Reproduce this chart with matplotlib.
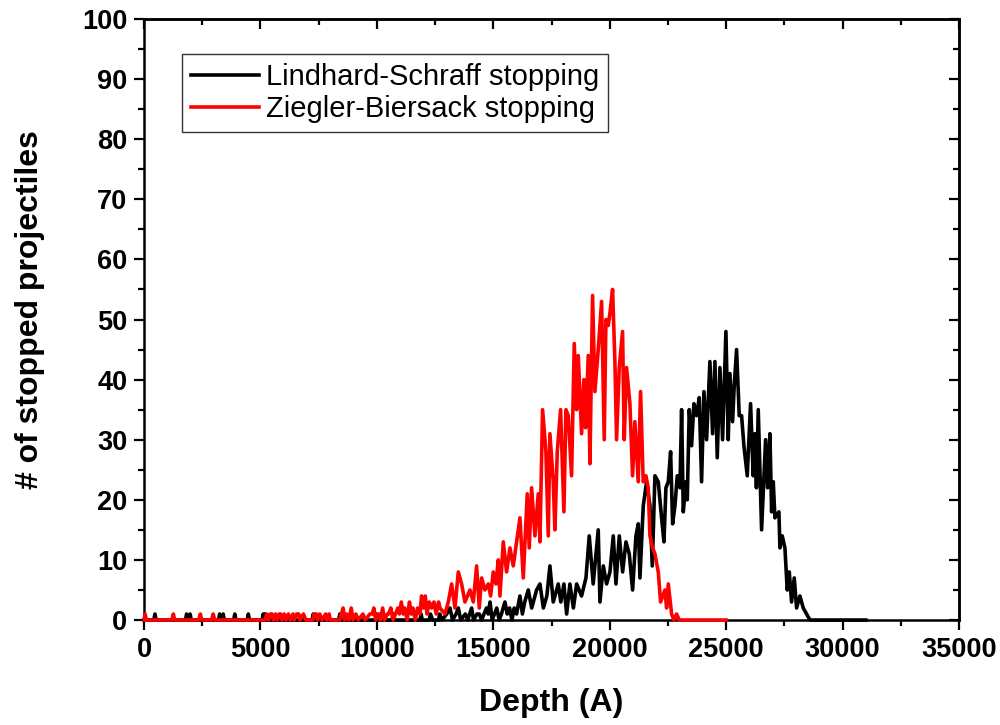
import matplotlib
matplotlib.use('Agg')
import matplotlib.pyplot as plt
from matplotlib.ticker import MultipleLocator

plt.rcParams['font.family'] = ['Liberation Sans', 'DejaVu Sans']

# ---------------- data ----------------
# Ziegler-Biersack: sparse shallow tail
red_tail_depth = [0, 50, 100, 1200, 1260, 1320, 2350, 2420, 2480, 2900, 2970, 3040,
                  5200, 5270, 5350, 5420, 5500, 5560, 5650, 5720, 5800, 5870, 5930,
                  6020, 6100, 6200, 6280, 6400, 6450, 6560, 6650, 6700, 6850, 6950,
                  7250, 7300, 7400, 7450, 7550, 7650, 7800, 7850, 7950, 8000,
                  8400, 8480, 8550, 8620, 8700, 8800, 8900, 8980, 9100, 9200,
                  9400, 9500, 9700, 9800, 9870, 9950, 10000, 10100, 10150, 10250,
                  10330, 10450, 10500, 10600, 10700,
                  10800, 10900, 10970, 11050, 11130, 11200, 11300, 11400, 11480, 11550,
                  11650, 11750, 11850, 11920, 12000, 12080, 12150, 12250, 12350, 12450,
                  12550, 12650]
red_tail_count = [0, 1, 0, 0, 1, 0, 0, 1, 0, 0, 1, 0,
                  0, 1, 0, 1, 1, 0, 1, 0, 1, 1, 0,
                  1, 0, 1, 0, 1, 0, 1, 1, 0, 1, 0,
                  0, 1, 1, 0, 1, 0, 1, 0, 1, 0,
                  0, 1, 2, 0, 1, 0, 2, 0, 1, 0,
                  1, 0, 1, 1, 2, 0, 1, 1, 0, 2,
                  0, 1, 1, 2, 0,
                  1, 2, 1, 3, 1, 2, 0, 3, 1, 2,
                  0, 2, 1, 4, 2, 4, 1, 3, 2, 3,
                  1, 3]
# Ziegler-Biersack: main peak
red_peak_depth = [12710, 12925, 13068, 13211, 13354, 13497, 13640, 13783, 13998, 14141,
                  14284, 14398, 14499, 14641, 14785, 14885, 14999, 15114, 15214, 15286,
                  15429, 15572, 15715, 15858, 16001, 16144, 16288, 16459, 16545, 16645,
                  16788, 16931, 17003, 17117, 17261, 17361, 17432, 17575, 17647, 17747,
                  17890, 18033, 18119, 18219, 18362, 18477, 18577, 18649, 18792, 18892,
                  18963, 19078, 19150, 19264, 19364, 19507, 19651, 19765, 19837, 19937,
                  20008, 20123, 20223, 20294, 20409, 20552, 20623, 20724, 20867, 20981,
                  21081, 21224, 21325, 21439, 21554, 21654, 21728, 21842, 21942, 22085,
                  22185, 22371, 22443, 22515, 22658, 22758, 22872, 22987, 25000]
red_peak_count = [2, 1, 3, 6, 2, 8, 6, 3, 5, 3,
                  9, 2, 7, 5, 6, 4, 8, 6, 10, 4,
                  13, 8, 12, 9, 13, 17, 7, 21, 12, 22,
                  14, 21, 13, 35, 28, 14, 31, 23, 15, 28,
                  35, 18, 35, 34, 24, 46, 35, 44, 31, 40,
                  32, 44, 26, 54, 38, 45, 53, 30, 50, 49,
                  51, 55, 43, 30, 42, 48, 30, 42, 36, 24,
                  33, 23, 38, 23, 24, 22, 14, 12, 11, 8,
                  3, 5, 2, 6, 1, 0, 1, 0, 0]

# Lindhard-Schraff: sparse shallow tail
black_tail_depth = [0, 420, 470, 520, 1780, 1830, 1880, 1930, 1980, 2030,
                    3200, 3250, 3300, 3350, 3400, 3450, 3850, 3900, 3950,
                    4430, 4480, 4530, 5070, 5120, 5160, 5200, 5250,
                    7220, 7270, 7320, 8360, 8410, 8460, 10220, 10270, 10320,
                    10650, 10700, 10750, 11850, 11900, 11950]
black_tail_count = [0, 0, 1, 0, 0, 1, 0, 0, 1, 0,
                    0, 1, 0, 0, 1, 0, 0, 1, 0,
                    0, 1, 0, 0, 1, 0, 1, 0,
                    0, 1, 0, 0, 1, 0, 0, 1, 0,
                    0, 1, 0, 0, 1, 0]
# Lindhard-Schraff: rising flank
black_rise_depth = [12250, 12300, 12400, 12650, 12700, 12800, 13000, 13140, 13250, 13400,
                    13500, 13600, 13800, 13900, 14070, 14150, 14300, 14400, 14500, 14600,
                    14710, 14780, 14860, 14950, 15050, 15150, 15250, 15350, 15500, 15600,
                    15700, 15800, 15900, 16000, 16144, 16250, 16350, 16502, 16650, 16860,
                    17003, 17150, 17300, 17432, 17575, 17790, 17900, 18033, 18150, 18290,
                    18440, 18580, 18790, 18980, 19121, 19290, 19507]
black_rise_count = [0, 1, 0, 0, 1, 0, 1, 2, 0, 1,
                    2, 0, 1, 0, 2, 0, 1, 1, 0, 1,
                    2, 1, 3, 0, 1, 2, 0, 1, 3, 1,
                    2, 0, 2, 1, 4, 1, 3, 5, 2, 5,
                    6, 2, 4, 9, 3, 6, 3, 6, 1, 6,
                    2, 6, 4, 7, 14, 6, 15]
# Lindhard-Schraff: main peak
black_peak_depth = [19581, 19724, 19867, 20010, 20153, 20268, 20411, 20554, 20697, 20840,
                    20983, 21126, 21227, 21298, 21441, 21584, 21728, 21828, 21942, 22085,
                    22228, 22329, 22414, 22515, 22615, 22701, 22801, 22901, 23016, 23087,
                    23159, 23273, 23330, 23416, 23516, 23616, 23731, 23845, 23945, 24046,
                    24160, 24303, 24418, 24518, 24618, 24733, 24847, 24990, 25090, 25162,
                    25276, 25348, 25448, 25562, 25663, 25763, 25906, 26049, 26163, 26236,
                    26300, 26379, 26522, 26694, 26780, 26880, 26952, 27023, 27095, 27266,
                    27309, 27409, 27524, 27624, 27710, 27810, 27925, 28025, 28168, 28311,
                    28454, 28597, 31000]
black_peak_count = [3, 9, 6, 8, 14, 6, 14, 8, 13, 11,
                    5, 14, 16, 7, 19, 23, 19, 9, 24, 23,
                    17, 13, 22, 23, 28, 16, 19, 24, 22, 35,
                    18, 23, 20, 35, 29, 36, 34, 37, 23, 38,
                    30, 43, 31, 43, 27, 42, 30, 48, 30, 41,
                    33, 39, 45, 34, 34, 29, 24, 36, 24, 31,
                    22, 35, 15, 30, 22, 31, 18, 23, 17, 18,
                    12, 14, 12, 5, 8, 3, 7, 2, 4, 2,
                    1, 0, 0]

series_labels = ['Lindhard-Schraff stopping', 'Ziegler-Biersack stopping']
x_ticks = [0, 5000, 10000, 15000, 20000, 25000, 30000, 35000]
x_tick_labels = ['0', '5000', '10000', '15000', '20000', '25000', '30000', '35000']
y_ticks = [0, 10, 20, 30, 40, 50, 60, 70, 80, 90, 100]
y_tick_labels = [str(v) for v in y_ticks]
x_label = 'Depth (A)'
y_label = '# of stopped projectiles'

# ---------------- figure ----------------
black_depth = black_tail_depth + black_rise_depth + black_peak_depth
black_count = black_tail_count + black_rise_count + black_peak_count
red_depth = red_tail_depth + red_peak_depth
red_count = red_tail_count + red_peak_count
assert len(black_depth) == len(black_count)
assert len(red_depth) == len(red_count)

fig = plt.figure(figsize=(10, 7.25), dpi=100)
ax = fig.add_axes([0.144, 0.1448, 0.815, 0.829])

ax.plot(black_depth, black_count, color='black', lw=2.6, label=series_labels[0],
        zorder=3, clip_on=False)
ax.plot(red_depth, red_count, color='#ff0000', lw=2.6, label=series_labels[1],
        zorder=4, clip_on=False)

ax.set_xlim(0, 35000)
ax.set_ylim(0, 100)
ax.set_xticks(x_ticks)
ax.set_xticklabels(x_tick_labels, fontsize=19.5, fontweight='bold')
ax.set_yticks(y_ticks)
ax.set_yticklabels(y_tick_labels, fontsize=19.5, fontweight='bold')
ax.xaxis.set_minor_locator(MultipleLocator(2500))
ax.yaxis.set_minor_locator(MultipleLocator(5))
ax.tick_params(which='major', direction='out', length=7, width=1.6, pad=5)
ax.tick_params(which='minor', direction='out', length=4, width=1.6)
for sp in ax.spines.values():
    sp.set_linewidth(1.8)

sx = ax.secondary_xaxis('top')
sx.set_xticks(x_ticks)
sx.xaxis.set_minor_locator(MultipleLocator(2500))
sx.tick_params(which='major', direction='in', length=7, width=1.6, labeltop=False)
sx.tick_params(which='minor', direction='in', length=4, width=1.6)
sx.spines['top'].set_linewidth(1.8)

sy = ax.secondary_yaxis('right')
sy.set_yticks(y_ticks)
sy.yaxis.set_minor_locator(MultipleLocator(5))
sy.tick_params(which='major', direction='in', length=7, width=1.6, labelright=False)
sy.tick_params(which='minor', direction='in', length=4, width=1.6)
sy.spines['right'].set_linewidth(1.8)

ax.set_xlabel(x_label, fontsize=23, fontweight='bold')
ax.set_ylabel(y_label, fontsize=23, fontweight='bold')
ax.xaxis.set_label_coords(0.5, -0.113)
ax.yaxis.set_label_coords(-0.1215, 0.516)

leg = ax.legend(loc='upper left', bbox_to_anchor=(0.0466, 0.9418), borderaxespad=0,
                frameon=True, fancybox=False, edgecolor='black', fontsize=21,
                handlelength=2.33, handletextpad=0.25, borderpad=0.3,
                labelspacing=0.15)
leg.get_frame().set_linewidth(1.0)
for line in leg.get_lines():
    line.set_linewidth(2.6)

fig.savefig('out.png', dpi=100)
